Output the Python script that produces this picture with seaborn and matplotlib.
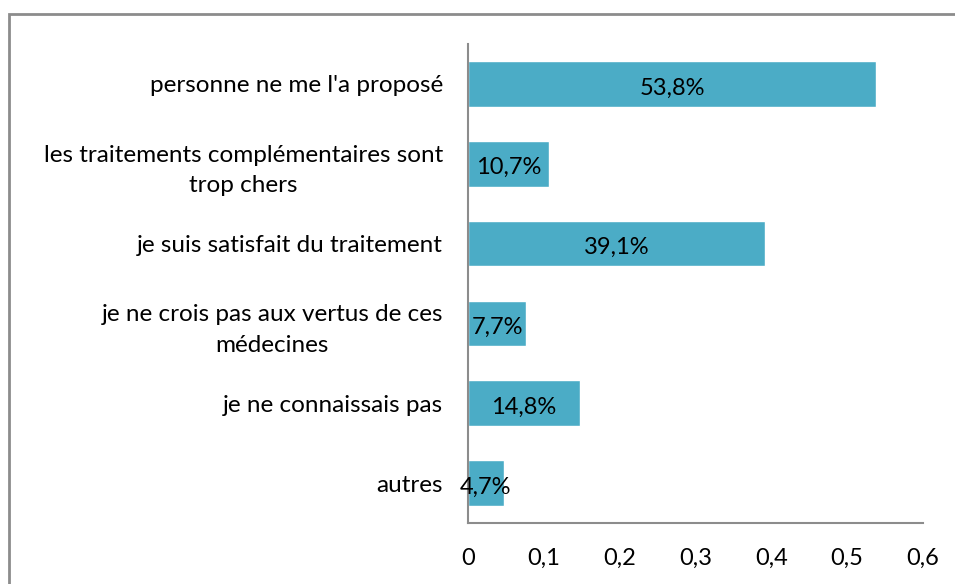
import matplotlib
matplotlib.use("Agg")
import matplotlib.pyplot as plt
import seaborn as sns
import pandas as pd
from matplotlib.patches import Rectangle

# data
categories = [
    "personne ne me l'a proposé",
    "les traitements complémentaires sont\ntrop chers",
    "je suis satisfait du traitement",
    "je ne crois pas aux vertus de ces\nmédecines",
    "je ne connaissais pas",
    "autres",
]
values = [0.538, 0.107, 0.391, 0.077, 0.148, 0.047]
value_labels = ["53,8%", "10,7%", "39,1%", "7,7%", "14,8%", "4,7%"]
x_ticks = [0, 0.1, 0.2, 0.3, 0.4, 0.5, 0.6]
x_tick_labels = ["0", "0,1", "0,2", "0,3", "0,4", "0,5", "0,6"]

sns.set_theme(style="white")
plt.rcParams['font.family'] = ['Lato', 'DejaVu Sans']

df = pd.DataFrame({"cat": categories, "val": values})

fig = plt.figure(figsize=(9.55, 5.84), dpi=100)
ax = fig.add_axes([468 / 955, 1 - 523 / 584, (923 - 468) / 955, (523 - 44) / 584])

sns.barplot(data=df, x="val", y="cat", orient="h", color="#4BACC6",
            saturation=1, width=0.57, ax=ax)

for i, p in enumerate(ax.patches):
    cx = p.get_x() + p.get_width() / 2
    cy = p.get_y() + p.get_height() / 2
    ax.text(cx, cy + 0.05, value_labels[i], ha="center", va="center",
            fontsize=17, color="black")

ax.set_xlim(0, 0.6)
ax.set_ylim(5.5, -0.5)
ax.set_xticks(x_ticks)
ax.set_xticklabels(x_tick_labels, fontsize=17, color="black")
ax.set_yticks(range(len(categories)))
ax.set_yticklabels(categories, fontsize=17.5, color="black",
                   multialignment="center", linespacing=1.55)
ax.tick_params(axis="y", length=0, pad=18)
ax.tick_params(axis="x", length=0, pad=18)
ax.set_xlabel("")
ax.set_ylabel("")

for side in ["top", "right"]:
    ax.spines[side].set_visible(False)
for side in ["left", "bottom"]:
    ax.spines[side].set_color("#8c8c8c")
    ax.spines[side].set_linewidth(1.5)

# outer chart border (cropped on right and bottom)
fig.patches.append(Rectangle((9 / 955, -0.05), 1.1, 1.05 - 14 / 584,
                             transform=fig.transFigure, fill=False,
                             edgecolor="#8c8c8c", linewidth=2))

fig.savefig("out.png", dpi=100)
